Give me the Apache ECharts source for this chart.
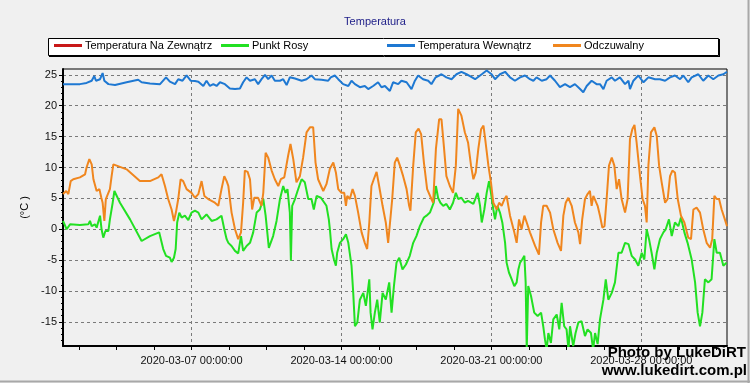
<!DOCTYPE html>
<html><head><meta charset="utf-8">
<script src="https://cdn.jsdelivr.net/npm/echarts@6/dist/echarts.min.js"></script>
<style>html,body{margin:0;padding:0;background:#f0f0f0}#c{width:750px;height:383px}</style>
</head><body><div id="c"></div><script>
// ---- data (x = days since 2020-03-01 00:00) ----
const seriesNames = ['Temperatura Na Zewnątrz', 'Punkt Rosy', 'Temperatura Wewnątrz', 'Odczuwalny'];
const seriesColors = ['#c81818', '#22e022', '#1e78d2', '#f0861e'];
const legendLefts = [54, 221, 387, 553];

const outsideTemp = []; // hidden under the feels-like line in the reference
const dewPoint = [[0,1.35],[0.05,1.35],[0.17,0],[0.33,0.8],[0.79,0.7],[1.18,0.8],[1.26,1.35],[1.34,0.5],[1.49,0.8],[1.57,0.27],[1.73,2.2],[1.8,0],[1.88,-1.35],[1.98,-0.27],[2.12,-0.27],[2.19,1.6],[2.32,4.3],[2.4,6.2],[2.66,4.3],[3.13,1.6],[3.67,-1.9],[4.06,-1.1],[4.49,-0.5],[4.68,-3.2],[4.81,-4.3],[4.99,-4.6],[5.07,-5.3],[5.18,-4.6],[5.26,-3.2],[5.33,1.1],[5.43,2.7],[5.54,1.9],[5.69,2.2],[5.85,1.5],[6.0,2.7],[6.16,3.0],[6.32,2.7],[6.47,1.6],[6.7,2.4],[6.94,1.35],[7.17,1.6],[7.25,1.35],[7.4,2.2],[7.53,0],[7.64,-1.6],[7.72,-2.2],[7.87,-2.7],[8.03,-3.5],[8.18,-3.9],[8.31,-1.1],[8.41,-3.5],[8.57,-2.7],[8.73,-2.2],[8.88,-0.5],[9.04,2.7],[9.19,3.2],[9.35,4.9],[9.46,2.2],[9.61,-3.0],[9.81,-1.1],[9.97,1.35],[10.13,4.9],[10.28,7.0],[10.39,5.9],[10.48,6.5],[10.59,2.7],[10.64,-5.1],[10.7,3.8],[10.83,4.9],[10.95,6.2],[11.14,8.1],[11.29,7.6],[11.45,4.9],[11.6,4.9],[11.71,3.2],[11.84,5.4],[12.04,5.1],[12.3,3.8],[12.41,1.6],[12.46,0],[12.54,-3.2],[12.65,-4.9],[12.74,-5.9],[12.8,-3.8],[12.93,-2.2],[13.08,-1.6],[13.21,-0.8],[13.32,-2.2],[13.47,-5.9],[13.55,-10.3],[13.63,-15.7],[13.74,-15.1],[13.86,-11.4],[14.02,-10.3],[14.14,-12.4],[14.3,-8.1],[14.36,-13.5],[14.45,-16.2],[14.56,-13.5],[14.67,-11.4],[14.79,-15.1],[14.92,-10.3],[15.07,-11.4],[15.23,-8.6],[15.34,-13.5],[15.45,-9.2],[15.57,-5.4],[15.7,-4.6],[15.85,-6.5],[16.01,-5.7],[16.19,-4.3],[16.35,-2.2],[16.5,-1.1],[16.66,0.5],[16.85,1.9],[16.97,2.2],[17.13,2.7],[17.25,3.8],[17.31,4.3],[17.41,7.0],[17.51,5.1],[17.62,4.3],[17.75,3.8],[17.9,4.1],[18.06,3.2],[18.21,4.3],[18.34,5.9],[18.45,4.9],[18.6,5.1],[18.76,4.3],[18.91,4.6],[19.0,4.3],[19.16,4.1],[19.36,5.9],[19.47,3.8],[19.55,1.1],[19.67,3.2],[19.78,5.9],[19.89,7.8],[19.98,5.9],[20.09,3.2],[20.17,1.6],[20.28,3.8],[20.4,2.7],[20.51,1.1],[20.64,-2.2],[20.71,-5.4],[20.82,-7.0],[20.95,-8.1],[21.07,-9.2],[21.18,-8.6],[21.26,-6.5],[21.34,-5.4],[21.44,-4.9],[21.54,-4.3],[21.6,-8.6],[21.65,-19.5],[21.72,-9.2],[21.85,-10.8],[22.0,-13.5],[22.16,-14.05],[22.32,-13.5],[22.42,-15.7],[22.5,-17.8],[22.58,-19.5],[22.66,-16.8],[22.78,-18.4],[22.89,-14.6],[23.05,-13.8],[23.17,-16.2],[23.28,-11.9],[23.4,-15.7],[23.51,-16.2],[23.6,-19.5],[23.67,-15.7],[23.82,-18.9],[23.93,-16.8],[24.06,-15.1],[24.21,-14.9],[24.37,-17.3],[24.49,-16.2],[24.65,-16.8],[24.75,-19.5],[24.84,-16.8],[24.96,-18.6],[25.07,-14.6],[25.23,-11.4],[25.34,-8.1],[25.46,-11.4],[25.62,-10.3],[25.77,-8.6],[25.93,-3.8],[26.08,-3.8],[26.24,-2.2],[26.4,-2.4],[26.55,-4.3],[26.71,-4.9],[26.86,-5.9],[27.02,-3.8],[27.14,-4.9],[27.25,0],[27.36,-1.6],[27.48,-3.8],[27.61,-6.5],[27.72,-3.8],[27.87,-1.6],[28.03,-0.5],[28.14,0],[28.29,1.6],[28.42,-1.1],[28.57,1.1],[28.73,0.5],[28.85,1.9],[29.01,-0.5],[29.16,-2.2],[29.35,-4.9],[29.51,-8.6],[29.63,-13.5],[29.74,-15.7],[29.85,-13.5],[29.97,-8.1],[30.13,-8.6],[30.28,-8.1],[30.41,-1.6],[30.52,-3.8],[30.67,-3.8],[30.83,-5.9],[30.98,-5.4]];
const insideTemp = [[0,23.5],[0.79,23.5],[1.1,23.7],[1.34,24.05],[1.46,24.8],[1.54,24.05],[1.73,24.3],[1.85,25.3],[1.93,24.05],[2.12,23.5],[2.43,23.35],[2.97,23.8],[3.51,24.2],[3.67,23.8],[4.06,23.6],[4.53,23.5],[4.81,24.6],[4.99,23.9],[5.23,23.5],[5.38,24.3],[5.58,24.05],[5.77,24.9],[5.96,24.05],[6.16,24.0],[6.32,23.9],[6.4,24.2],[6.55,23.2],[6.7,24.05],[6.86,23.2],[7.02,23.5],[7.17,23.2],[7.33,23.8],[7.56,23.5],[7.79,22.8],[8.03,22.7],[8.26,22.8],[8.41,23.8],[8.57,24.6],[8.73,24.05],[8.96,24.3],[9.11,23.5],[9.27,24.3],[9.43,25.0],[9.58,24.3],[9.74,24.9],[9.89,24.05],[10.13,24.05],[10.28,24.3],[10.44,23.35],[10.59,24.6],[10.83,24.4],[11.14,24.05],[11.37,24.3],[11.6,24.9],[11.76,24.3],[12.07,24.2],[12.38,24.05],[12.5,24.6],[12.69,24.9],[12.85,24.3],[13.08,23.5],[13.32,23.2],[13.47,24.05],[13.63,23.5],[13.86,23.0],[14.09,23.2],[14.25,22.7],[14.48,23.2],[14.71,23.8],[14.87,23.0],[15.03,23.2],[15.26,22.4],[15.41,23.8],[15.65,23.5],[15.8,24.05],[16.04,23.8],[16.27,22.7],[16.43,24.05],[16.58,24.9],[16.81,24.3],[17.05,24.05],[17.2,23.5],[17.4,24.6],[17.67,25.1],[17.9,24.6],[18.14,24.3],[18.37,25.1],[18.6,25.5],[18.84,25.1],[19.0,24.8],[19.24,24.3],[19.55,25.1],[19.78,25.7],[20.01,25.1],[20.17,24.3],[20.4,25.1],[20.64,25.5],[20.87,24.6],[21.1,24.05],[21.34,24.6],[21.57,24.9],[21.8,24.3],[21.96,24.05],[22.11,24.6],[22.35,24.05],[22.58,24.3],[22.74,24.9],[22.97,24.05],[23.2,23.0],[23.44,23.5],[23.67,23.0],[23.9,23.5],[24.14,22.7],[24.29,22.2],[24.45,23.2],[24.68,24.05],[24.91,23.5],[25.07,23.5],[25.23,22.7],[25.38,24.05],[25.62,24.6],[25.77,24.05],[26.0,24.6],[26.24,23.5],[26.4,24.05],[26.47,22.7],[26.63,24.05],[26.86,24.9],[27.1,23.8],[27.33,24.6],[27.64,24.3],[27.87,24.3],[28.11,24.05],[28.34,24.6],[28.57,24.9],[28.81,24.3],[28.96,24.9],[29.19,23.8],[29.35,24.6],[29.66,25.1],[29.89,24.05],[30.13,24.9],[30.36,24.3],[30.6,24.9],[30.83,25.1],[31.0,25.5]];
const feelsLike = [[0,5.7],[0.05,5.7],[0.15,6.2],[0.25,5.7],[0.36,7.8],[0.48,8.1],[0.79,8.4],[1.03,8.9],[1.1,10.0],[1.23,11.35],[1.34,10.5],[1.42,8.1],[1.57,6.2],[1.7,6.5],[1.79,5.1],[1.85,4.3],[1.93,1.35],[2.0,4.9],[2.08,4.9],[2.19,6.5],[2.27,8.6],[2.35,10.5],[2.43,10.8],[2.97,9.7],[3.59,7.8],[3.67,7.6],[4.06,7.8],[4.45,8.4],[4.6,8.9],[4.76,7.0],[4.91,4.9],[5.07,3.2],[5.18,1.35],[5.27,2.7],[5.38,4.9],[5.49,8.1],[5.61,7.8],[5.77,6.5],[6.0,5.9],[6.16,5.1],[6.32,5.7],[6.47,7.8],[6.6,5.4],[6.78,4.9],[7.09,4.3],[7.25,3.8],[7.4,6.5],[7.53,8.6],[7.64,7.8],[7.72,7.0],[7.87,2.7],[8.03,0],[8.18,-1.6],[8.31,-0.5],[8.41,4.3],[8.49,9.5],[8.62,9.3],[8.73,8.1],[8.83,3.2],[8.93,5.1],[9.11,5.1],[9.27,3.8],[9.35,5.9],[9.46,12.4],[9.58,11.6],[9.74,9.5],[9.89,8.1],[10.05,7.0],[10.17,8.1],[10.33,8.4],[10.51,11.9],[10.62,13.8],[10.75,11.35],[10.9,7.6],[11.06,8.6],[11.21,11.6],[11.37,15.7],[11.53,16.5],[11.68,16.5],[11.79,10.8],[11.91,8.1],[12.15,6.2],[12.3,7.3],[12.46,9.8],[12.62,10.8],[12.74,9.2],[12.85,6.5],[13.0,5.9],[13.13,5.9],[13.21,3.8],[13.27,5.4],[13.39,4.9],[13.52,6.5],[13.63,5.4],[13.78,2.7],[13.94,-0.5],[14.09,-2.2],[14.2,-3.2],[14.3,1.1],[14.4,7.0],[14.51,8.1],[14.64,9.3],[14.76,7.0],[14.92,3.8],[15.07,1.1],[15.18,-2.2],[15.26,-2.2],[15.37,4.9],[15.49,10.8],[15.6,11.6],[15.73,10.3],[15.88,8.6],[16.04,6.5],[16.16,3.8],[16.22,3.0],[16.35,10.3],[16.47,15.7],[16.6,16.3],[16.72,15.4],[16.85,10.8],[17.0,6.5],[17.2,4.9],[17.28,4.3],[17.41,13.0],[17.56,17.8],[17.67,17.8],[17.78,13.5],[17.9,8.6],[18.06,7.0],[18.21,5.9],[18.34,10.3],[18.45,19.5],[18.6,18.4],[18.76,15.7],[18.91,14.05],[19.05,10.3],[19.16,8.1],[19.27,9.2],[19.39,13.0],[19.52,16.2],[19.63,16.8],[19.73,14.05],[19.86,10.3],[19.98,7.6],[20.09,4.3],[20.25,3.2],[20.36,4.3],[20.48,3.8],[20.61,4.9],[20.71,5.4],[20.87,2.2],[21.07,-0.5],[21.18,-2.2],[21.29,1.6],[21.41,0],[21.54,2.2],[21.65,1.1],[21.8,-0.5],[22.04,-2.7],[22.22,-4.1],[22.32,1.1],[22.42,3.8],[22.58,3.8],[22.74,2.7],[22.89,0],[23.09,-2.2],[23.25,-3.5],[23.36,2.2],[23.47,4.3],[23.59,5.1],[23.75,3.8],[23.9,1.1],[24.06,-0.5],[24.14,-2.4],[24.24,1.6],[24.37,4.9],[24.49,5.7],[24.6,6.2],[24.68,3.8],[24.76,5.4],[24.84,5.1],[24.96,3.8],[25.07,2.2],[25.18,0.27],[25.28,0.5],[25.38,4.9],[25.49,10.3],[25.62,11.6],[25.74,10.3],[25.85,6.5],[25.96,8.1],[26.08,4.9],[26.24,2.7],[26.36,4.9],[26.47,14.6],[26.58,16.2],[26.68,16.9],[26.78,14.05],[26.94,8.6],[27.06,4.9],[27.17,3.8],[27.25,1.1],[27.33,10.3],[27.45,15.7],[27.61,16.5],[27.72,15.1],[27.83,10.3],[27.95,7.6],[28.11,4.3],[28.23,4.9],[28.34,8.6],[28.45,9.5],[28.57,9.2],[28.7,4.9],[28.85,2.2],[29.01,1.1],[29.19,-1.35],[29.32,-1.6],[29.43,3.2],[29.58,3.5],[29.74,2.7],[29.89,0],[30.05,-2.2],[30.21,-3.0],[30.31,-1.6],[30.41,5.4],[30.52,4.9],[30.63,4.9],[30.75,3.2],[30.9,1.6],[31.0,0.5]];

const xLabelDays = [6, 13, 20, 27];
const xLabels = ['2020-03-07 00:00:00', '2020-03-14 00:00:00', '2020-03-21 00:00:00', '2020-03-28 00:00:00'];
const xTickDays = [0.75, 2.5, 4.25, 6, 7.75, 9.5, 11.25, 13, 14.75, 16.5, 18.25, 20, 21.75, 23.5, 25.25, 27, 28.75, 30.5];
const yLabelValues = [-15, -10, -5, 0, 5, 10, 15, 20, 25];
const yMinorValues = [-18,-17,-16,-15,-14,-13,-12,-11,-10,-9,-8,-7,-6,-5,-4,-3,-2,-1,0,1,2,3,4,5,6,7,8,9,10,11,12,13,14,15,16,17,18,19,20,21,22,23,24,25];

const FONT = 'Liberation Sans, Arial, sans-serif';
const seriesData = [outsideTemp, dewPoint, insideTemp, feelsLike];

const chart = echarts.init(document.getElementById('c'), null, {renderer: 'canvas'});
const gridDash = {color: '#7a7a7a', width: 1, type: [3, 3]};
chart.setOption({
  backgroundColor: '#f0f0f0',
  animation: false,
  title: {text: 'Temperatura', left: 'center', top: 16, padding: 0,
    textStyle: {fontSize: 11, fontWeight: 'normal', color: '#22228a', fontFamily: FONT}},
  legend: seriesNames.map((n, i) => ({
    left: legendLefts[i], top: 40, padding: 0, itemWidth: 28, itemHeight: 3, itemGap: 0,
    icon: 'rect', selectedMode: false, data: [n],
    textStyle: {fontSize: 11, color: '#000', fontFamily: FONT, padding: [0, 0, 0, -2]}
  })),
  grid: {left: 63, top: 69, width: 664, height: 277, show: true, borderColor: '#000', borderWidth: 1, backgroundColor: 'transparent'},
  xAxis: [
    {type: 'value', min: 0, max: 31, position: 'bottom',
      axisLine: {onZero: false, lineStyle: {color: '#000', width: 2}},
      axisTick: {customValues: xTickDays, length: 4, lineStyle: {color: '#000'}},
      axisLabel: {show: false}, splitLine: {show: false}},
    {type: 'value', min: 0, max: 31, position: 'bottom',
      axisLine: {show: false, onZero: false},
      axisTick: {show: false, customValues: xLabelDays},
      axisLabel: {customValues: xLabelDays, margin: 9, fontSize: 11, color: '#111', fontFamily: FONT,
        formatter: v => xLabels[xLabelDays.indexOf(Math.round(v))]},
      splitLine: {show: true, lineStyle: gridDash}}
  ],
  yAxis: [
    {type: 'value', min: -18.9, max: 25.95, position: 'left',
      name: '(°C )', nameLocation: 'middle', nameGap: 30, nameRotate: 90,
      nameTextStyle: {fontSize: 11, color: '#000', fontFamily: FONT},
      axisLine: {onZero: false, lineStyle: {color: '#000', width: 2}},
      axisTick: {customValues: yLabelValues, length: 4, lineStyle: {color: '#000'}},
      axisLabel: {customValues: yLabelValues, margin: 6, fontSize: 11, color: '#111', fontFamily: FONT},
      splitLine: {show: true, lineStyle: gridDash}},
    {type: 'value', min: -18.9, max: 25.95, position: 'left',
      axisLine: {show: false, onZero: false},
      axisTick: {customValues: yMinorValues, length: 2, lineStyle: {color: '#000'}},
      axisLabel: {show: false}, splitLine: {show: false}}
  ],
  series: seriesNames.map((n, i) => ({
    name: n, type: 'line', data: seriesData[i], xAxisIndex: 0, yAxisIndex: 0,
    showSymbol: false, symbol: 'none', clip: true, color: seriesColors[i],
    lineStyle: {width: 2, color: seriesColors[i]}, itemStyle: {color: seriesColors[i]}
  })),
  graphic: [
    {type: 'rect', z: 0, shape: {x: 48.5, y: 38.5, width: 670, height: 17}, style: {fill: '#ffffff', stroke: '#000', lineWidth: 1}},
    {type: 'line', z: 0, shape: {x1: 49, y1: 56.5, x2: 720, y2: 56.5}, style: {stroke: '#000', lineWidth: 1}},
    {type: 'line', z: 0, shape: {x1: 719.5, y1: 39, x2: 719.5, y2: 57}, style: {stroke: '#000', lineWidth: 1}},
    {type: 'line', z: 50, shape: {x1: 748.5, y1: 0, x2: 748.5, y2: 383}, style: {stroke: '#a8a8a8', lineWidth: 2}},
    {type: 'line', z: 50, shape: {x1: 0, y1: 381.5, x2: 750, y2: 381.5}, style: {stroke: '#a8a8a8', lineWidth: 2}},
    {type: 'text', z: 60, x: 746, y: 353, style: {text: 'Photo by LukeDiRT', align: 'right', verticalAlign: 'middle', font: 'bold 15px ' + FONT, fill: '#000'}},
    {type: 'text', z: 60, x: 747, y: 371, style: {text: 'www.lukedirt.com.pl', align: 'right', verticalAlign: 'middle', font: 'bold 15px ' + FONT, fill: '#000'}}
  ]
});
</script></body></html>
